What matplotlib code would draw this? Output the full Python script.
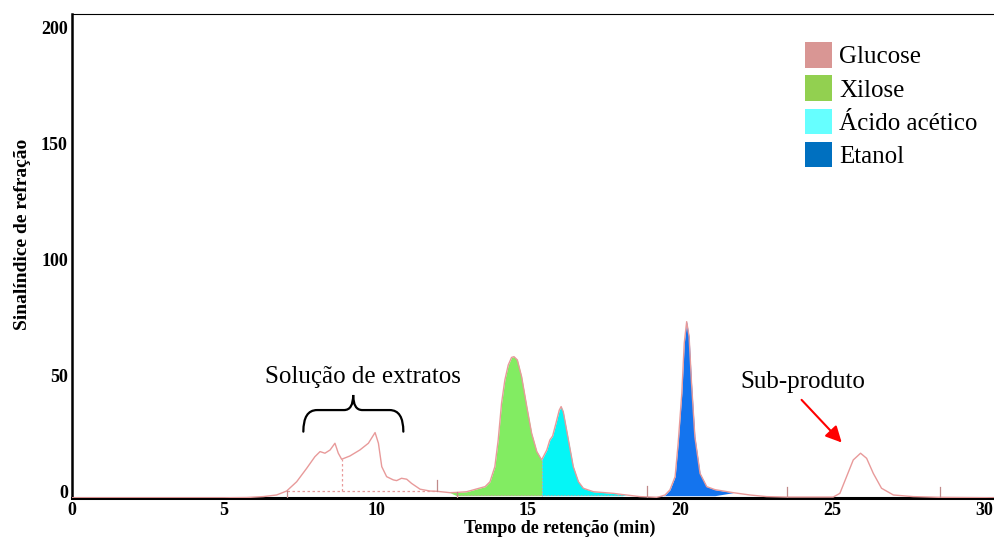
import numpy as np
import matplotlib
matplotlib.use("Agg")
import matplotlib.pyplot as plt
from matplotlib.patches import Patch, PathPatch
from matplotlib.path import Path

plt.rcParams["font.family"] = ["Liberation Serif", "DejaVu Serif"]

# refractive-index detector trace (min, signal)
time_min = [0.0, 5.0, 5.74, 6.29, 6.73, 7.06, 7.39, 7.72, 7.99, 8.16, 8.32,
            8.49, 8.65, 8.76, 8.87, 9.14, 9.47, 9.75, 9.97, 10.08, 10.19,
            10.35, 10.57, 10.68, 10.84, 11.01, 11.17, 11.45, 11.78, 12.0,
            12.43, 12.65, 12.98, 13.31, 13.59, 13.75, 13.91, 14.02, 14.13,
            14.24, 14.35, 14.46, 14.54, 14.65, 14.79, 14.96, 15.12, 15.29,
            15.45, 15.62, 15.72, 15.81, 15.92, 16.03, 16.09, 16.16, 16.33,
            16.49, 16.66, 16.82, 17.15, 17.81, 18.1, 18.24, 18.68, 19.23,
            19.34, 19.51, 19.67, 19.84, 19.94, 20.06, 20.14, 20.22, 20.30,
            20.38, 20.49, 20.66, 20.88, 21.15, 21.75, 22.3, 22.85, 23.5,
            25.04, 25.26, 25.48, 25.7, 25.94, 26.14, 26.36, 26.63, 27.02,
            27.67, 28.5, 30.33]
signal = [-2.5, -2.5, -2.4, -2.0, -1.3, 0.4, 4.4, 10.2, 15.2, 17.4, 16.7,
          18.1, 21.0, 16.7, 14.1, 15.5, 18.1, 21.0, 25.6, 21.0, 10.9,
          6.6, 5.2, 4.9, 5.9, 5.5, 3.7, 1.2, 0.4, 0.3,
          -0.3, -0.2, 0.1, 1.3, 2.3, 4.4, 10.9, 22.4, 38.2,
          48.3, 54.7, 58.0, 58.3, 56.9, 49.7, 36.8, 25.3, 17.4,
          13.8, 18.1, 22.4, 24.1, 29.6, 35.3, 36.8, 34.6, 22.4,
          10.9, 4.4, 1.6, 0.1, -0.6, -1.1, -1.3, -2.0, -2.3,
          -2.0, -1.3, 0.9, 6.6, 21.0, 42.5, 64.1, 73.4, 66.9,
          46.9, 23.8, 8.0, 2.3, 1.0, -0.3, -1.3, -2.0, -2.2,
          -2.2, -0.6, 6.6, 13.8, 16.7, 14.5, 8.0, 1.6, -1.3,
          -2.0, -2.3, -2.5]

# integrated peak windows (start, end) in minutes
compounds = ["Glucose", "Xilose", "Ácido acético", "Etanol"]
legend_colors = ["#d99694", "#92d050", "#66ffff", "#0070c0"]
fill_windows = {"Xilose": (12.65, 15.45), "Ácido acético": (15.45, 18.1),
                "Etanol": (19.34, 21.15)}
fill_colors = {"Xilose": "#82ec62", "Ácido acético": "#05f6f6",
               "Etanol": "#1474ee"}

# integrator start/stop marks (min, low, high)
marks = [(7.06, -2.6, 0.4), (12.0, 0.3, 5.2), (12.65, -2.6, 0.2),
         (18.9, -2.6, 2.5), (23.53, -2.6, 2.3), (28.55, -2.6, 2.3)]

LINE = "#e89a9a"


def brace(ax, x0, x1, xc, ybot, ymid, ytop, r=0.45, rc=0.3):
    verts = [(x0, ybot), (x0, ymid), (x0 + r, ymid),
             (xc - rc, ymid), (xc, ymid), (xc, ytop),
             (xc, ymid), (xc + rc, ymid),
             (x1 - r, ymid), (x1, ymid), (x1, ybot)]
    codes = [Path.MOVETO, Path.CURVE3, Path.CURVE3,
             Path.LINETO, Path.CURVE3, Path.CURVE3,
             Path.CURVE3, Path.CURVE3,
             Path.LINETO, Path.CURVE3, Path.CURVE3]
    ax.add_patch(PathPatch(Path(verts, codes), fill=False, lw=1.6,
                           color="black", capstyle="round"))


fig = plt.figure(figsize=(9.94, 5.39), dpi=100)
ax = fig.add_axes([72 / 994, 41 / 539, 922 / 994, 484 / 539])

t = np.array(time_min)
s = np.array(signal)

for name, (a, b) in fill_windows.items():
    m = (t >= a) & (t <= b)
    ax.fill_between(t, s, -1.6, where=m, color=fill_colors[name], lw=0,
                    interpolate=True, zorder=2)

ax.plot(t, s, color=LINE, lw=1.0, zorder=3)

# baseline under the extract region and the split between peaks
ax.plot([7.06, 12.0], [0.3, 0.3], color=LINE, lw=0.9, ls=(0, (2, 2)), zorder=3)
ax.plot([8.87, 8.87], [0.3, 14.1], color=LINE, lw=0.9, ls=(0, (2, 2)), zorder=3)
ax.plot([15.45, 15.45], [-1.6, 13.8], color="#c8a0a0", lw=0.6,
        ls=(0, (2, 2)), zorder=3)
ax.plot([12.65, 18.1], [-1.2, -1.2], color="#c8a0a0", lw=0.6,
        ls=(0, (2, 2)), zorder=3)
for x, lo, hi in marks:
    ax.plot([x, x], [lo, hi], color="#c08a8a", lw=0.9, zorder=3)

brace(ax, 7.61, 10.9, 9.25, 26.0, 35.3, 41.8)
ax.text(9.57, 49.5, "Solução de extratos", fontsize=18, ha="center",
        va="center")
ax.text(24.05, 47.5, "Sub-produto", fontsize=18, ha="center", va="center")
ax.annotate("", xy=(25.32, 21.3), xytext=(24.0, 39.7),
            arrowprops=dict(arrowstyle="-|>", color="red", lw=1.5,
                            mutation_scale=24, shrinkA=0, shrinkB=0))

handles = [Patch(facecolor=c, edgecolor="none") for c in legend_colors]
ax.legend(handles, compounds, loc="upper left", bbox_to_anchor=(0.795, 0.942),
          frameon=False, fontsize=18, handlelength=1.08, handleheight=1.2,
          handletextpad=0.3, labelspacing=0.28, borderpad=0, borderaxespad=0)

ax.set_xlim(0, 30.33)
ax.set_ylim(-2.6, 206)
ax.set_xticks([0, 5, 10, 15, 20, 25, 30])
ax.set_yticks([0, 50, 100, 150, 200])
ax.tick_params(length=0, labelsize=13, pad=3)
for lab in ax.get_xticklabels() + ax.get_yticklabels():
    lab.set_fontweight("bold")

ax.set_xlabel("Tempo de retenção (min)", fontsize=13, fontweight="bold")
ax.set_ylabel("Sinalíndice de refração", fontsize=14, fontweight="bold")
ax.xaxis.set_label_coords(0.529, -0.045)
ax.yaxis.set_label_coords(-0.045, 0.545)

ax.spines["right"].set_visible(False)
ax.spines["left"].set_linewidth(1.8)
ax.spines["bottom"].set_linewidth(2.2)
ax.spines["top"].set_linewidth(0.8)

fig.savefig("out.png", dpi=100)
